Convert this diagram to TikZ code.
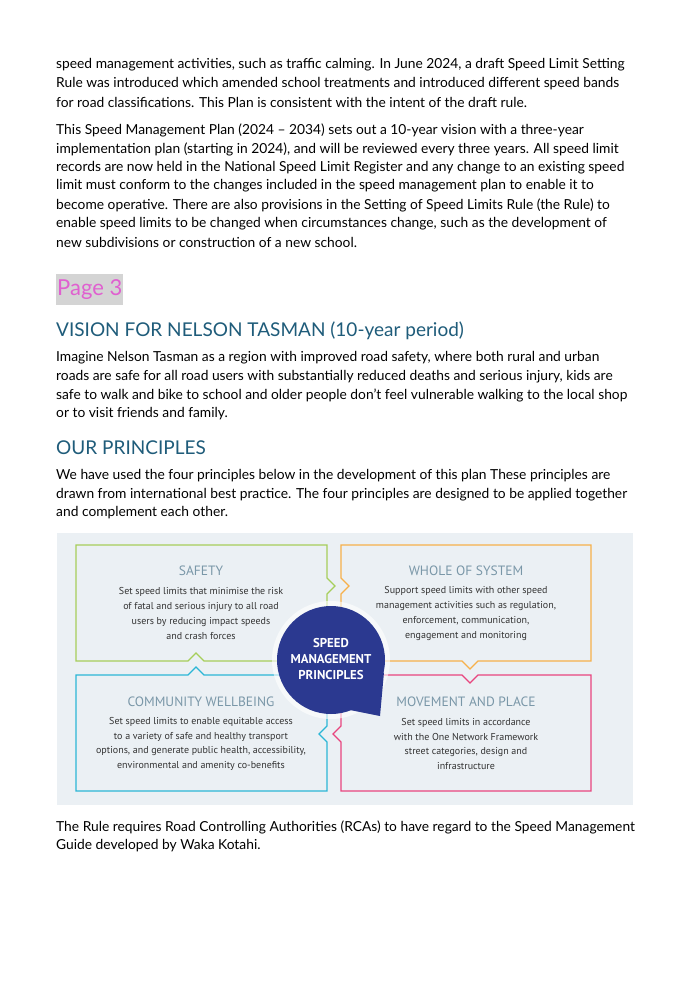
\documentclass[tikz,border=0pt]{standalone}
\usepackage{fontspec}
\setmainfont{Lato}
\newfontfamily\dgfont{PT Sans}
\definecolor{headblue}{HTML}{1F5C7A}
\definecolor{pagepink}{HTML}{E060D0}
\definecolor{hlgray}{HTML}{D4D4D4}
\definecolor{panelbg}{HTML}{EBF0F4}
\definecolor{cgreen}{HTML}{A6CE5A}
\definecolor{corange}{HTML}{F7B04A}
\definecolor{ccyan}{HTML}{2BB6D6}
\definecolor{cpink}{HTML}{E8457E}
\definecolor{navy}{HTML}{2B3990}
\definecolor{dghead}{HTML}{7A97A8}
\definecolor{dgtext}{HTML}{333333}
\begin{document}
\begin{tikzpicture}[x=1pt,y=-1pt,
  body/.style={anchor=west,inner sep=0pt,font=\fontsize{13.8}{15}\selectfont,text=black},
  head/.style={anchor=west,inner sep=0pt,font=\fontsize{19}{21}\selectfont,text=headblue},
  dgh/.style={inner sep=0pt,font=\dgfont\fontsize{13.5}{15}\selectfont,text=dghead},
  dgb/.style={inner sep=0pt,align=center,font=\dgfont\fontsize{10}{14.8}\selectfont,text=dgtext},
  boxline/.style={line width=1.1pt,line join=miter}]
\useasboundingbox (0,0) rectangle (689,1004);
\fill[white] (0,0) rectangle (689,1004);
% paragraph 1
\node[body] (p1a) at (56,65) {speed management activities, such as traffic calming. In June 2024, a draft Speed Limit Setting};
\node[body] (p1b) at (56,83.5) {Rule was introduced which amended school treatments and introduced different speed bands};
\node[body] (p1c) at (56,102) {for road classifications. This Plan is consistent with the intent of the draft rule.};
% paragraph 2
\node[body] (p2a) at (56,130.5) {This Speed Management Plan (2024 – 2034) sets out a 10-year vision with a three-year};
\node[body] (p2b) at (56,149) {implementation plan (starting in 2024), and will be reviewed every three years. All speed limit};
\node[body] (p2c) at (56,167.5) {records are now held in the National Speed Limit Register and any change to an existing speed};
\node[body] (p2d) at (56,186) {limit must conform to the changes included in the speed management plan to enable it to};
\node[body] (p2e) at (56,205) {become operative. There are also provisions in the Setting of Speed Limits Rule (the Rule) to};
\node[body] (p2f) at (56,223.5) {enable speed limits to be changed when circumstances change, such as the development of};
\node[body] (p2g) at (56,242) {new subdivisions or construction of a new school.};
% Page 3
\fill[hlgray] (56,274) rectangle (123,305);
\node[anchor=west,inner sep=0pt,font=\fontsize{22}{24}\selectfont,text=pagepink] (pg) at (57,290) {Page 3};
\node[head] (h1) at (56,331) {VISION FOR NELSON TASMAN (10-year period)};
\node[body] (p3a) at (56,358) {Imagine Nelson Tasman as a region with improved road safety, where both rural and urban};
\node[body] (p3b) at (56,377) {roads are safe for all road users with substantially reduced deaths and serious injury, kids are};
\node[body] (p3c) at (56,395.5) {safe to walk and bike to school and older people don’t feel vulnerable walking to the local shop};
\node[body] (p3d) at (56,414) {or to visit friends and family.};
\node[head] (h2) at (56,448) {OUR PRINCIPLES};
\node[body] (p4a) at (56,476) {We have used the four principles below in the development of this plan These principles are};
\node[body] (p4b) at (56,494.5) {drawn from international best practice. The four principles are designed to be applied together};
\node[body] (p4c) at (56,513) {and complement each other.};
% diagram
\fill[panelbg] (57,533) rectangle (633,805);
\draw[boxline,cgreen] (76,545) -- (327,545) -- (327,578) -- (335,586) -- (327,594) -- (327,661) -- (204,661) -- (196,653) -- (188,661) -- (76,661) -- cycle;
\draw[boxline,corange] (341,545) -- (591,545) -- (591,661) -- (478,661) -- (470,669) -- (462,661) -- (341,661) -- (341,594) -- (349,586) -- (341,578) -- cycle;
\draw[boxline,ccyan] (76,675) -- (188,675) -- (196,667) -- (204,675) -- (327,675) -- (327,726) -- (319,734) -- (327,742) -- (327,791) -- (76,791) -- cycle;
\draw[boxline,cpink] (341,675) -- (462,675) -- (470,683) -- (478,675) -- (591,675) -- (591,791) -- (341,791) -- (341,742) -- (333,734) -- (341,726) -- cycle;
\fill[white,opacity=0.6] (331,660) circle (59);
\fill[navy] (384,672) -- (380,716) -- (350,710) -- cycle;
\fill[navy] (331,660) circle (54);
\node[inner sep=0pt,align=center,text=white,font=\dgfont\bfseries\fontsize{12.8}{16}\selectfont] (ctr) at (331,659) {SPEED\\MANAGEMENT\\PRINCIPLES};
\node[dgh] (t1) at (201,571) {SAFETY};
\node[dgb] (b1) at (201,613.5) {Set speed limits that minimise the risk\\of fatal and serious injury to all road\\users by reducing impact speeds\\and crash forces};
\node[dgh] (t2) at (466,571) {WHOLE OF SYSTEM};
\node[dgb] (b2) at (466,613.5) {Support speed limits with other speed\\management activities such as regulation,\\enforcement, communication,\\engagement and monitoring};
\node[dgh] (t3) at (201,702) {COMMUNITY WELLBEING};
\node[dgb] (b3) at (201,744) {Set speed limits to enable equitable access\\to a variety of safe and healthy transport\\options, and generate public health, accessibility,\\environmental and amenity co-benefits};
\node[dgh] (t4) at (466,702) {MOVEMENT AND PLACE};
\node[dgb] (b4) at (466,744) {Set speed limits in accordance\\with the One Network Framework\\street categories, design and\\infrastructure};
% final
\node[body] (p5a) at (56,827) {The Rule requires Road Controlling Authorities (RCAs) to have regard to the Speed Management};
\node[body] (p5b) at (56,845.5) {Guide developed by Waka Kotahi.};
\end{tikzpicture}
\end{document}
